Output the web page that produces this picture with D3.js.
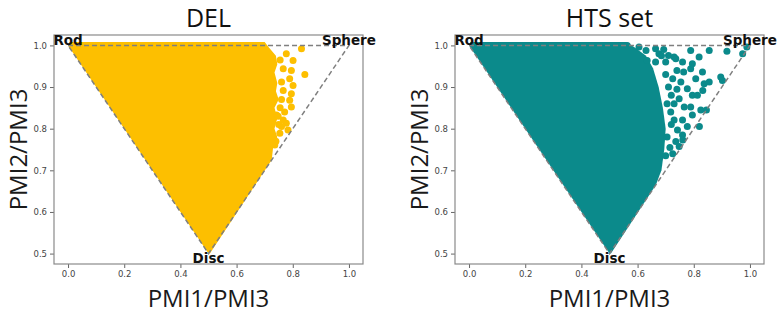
<!DOCTYPE html>
<html>
<head>
<meta charset="utf-8">
<script src="https://cdn.jsdelivr.net/npm/d3@7"></script>
<style>
  html, body { margin: 0; padding: 0; background: #fff; }
  svg { display: block; }
</style>
</head>
<body>
<div id="chart"></div>
<script>
// PMI shape triangle plots: DEL vs HTS set

const xTicks = [0.0, 0.2, 0.4, 0.6, 0.8, 1.0];
const yTicks = [0.5, 0.6, 0.7, 0.8, 0.9, 1.0];

// triangle corners (Rod, Sphere, Disc)
const triangle = [[0, 1], [1, 1], [0.5, 0.5], [0, 1]];
const shapeLabels = [
  {name: 'Rod', x: 0, y: 1, pos: 'above'},
  {name: 'Sphere', x: 1, y: 1, pos: 'above'},
  {name: 'Disc', x: 0.5, y: 0.5, pos: 'below'}
];

// visible outline of the dense point cloud
const delBoundary = [[0, 1], [0.005, 1.008], [0.70, 1.008], [0.715, 0.995], [0.74, 0.975], [0.745, 0.955],
  [0.735, 0.935], [0.745, 0.91], [0.74, 0.89], [0.75, 0.87], [0.735, 0.85], [0.745, 0.825],
  [0.735, 0.80], [0.745, 0.78], [0.73, 0.755], [0.725, 0.725], [0.505, 0.5], [0.5, 0.5]];
// scattered points outside the dense cloud
const delDots = [[0.575, 1.0], [0.831, 0.992], [0.777, 0.980], [0.801, 0.964], [0.843, 0.930], [0.766, 0.944],
  [0.795, 0.940], [0.789, 0.920], [0.760, 0.912], [0.801, 0.904], [0.766, 0.892], [0.795, 0.884],
  [0.789, 0.868], [0.795, 0.852], [0.771, 0.840], [0.766, 0.821], [0.777, 0.813], [0.783, 0.797],
  [0.754, 0.789], [0.742, 0.833], [0.736, 0.761], [0.748, 0.830], [0.74, 0.77], [0.755, 0.965],
  [0.76, 0.87], [0.755, 0.85], [0.76, 0.805], [0.75, 0.81]];

const htsBoundary = [[0, 1], [0.005, 1.008], [0.56, 1.008], [0.59, 0.995], [0.63, 0.975], [0.655, 0.945],
  [0.675, 0.90], [0.69, 0.85], [0.70, 0.80], [0.695, 0.75], [0.685, 0.70], [0.665, 0.665],
  [0.505, 0.5], [0.5, 0.5]];
const htsDots = [[0.563, 1.0], [0.605, 0.996], [0.63, 0.988], [0.664, 0.992], [0.676, 0.98], [0.634, 0.964],
  [0.664, 0.96], [0.693, 0.99], [0.71, 0.976], [0.73, 0.972], [0.736, 0.968], [0.76, 0.960],
  [0.789, 0.988], [0.855, 0.988], [0.918, 0.986], [0.989, 0.996], [0.974, 0.980], [0.819, 0.972],
  [0.789, 0.944], [0.795, 0.956], [0.764, 0.936], [0.831, 0.936], [0.807, 0.920], [0.837, 0.908],
  [0.855, 0.912], [0.896, 0.924], [0.902, 0.916], [0.754, 0.912], [0.777, 0.896], [0.832, 0.892],
  [0.795, 0.880], [0.813, 0.880], [0.748, 0.872], [0.766, 0.852], [0.789, 0.852], [0.825, 0.845],
  [0.845, 0.845], [0.795, 0.833], [0.718, 0.840], [0.760, 0.821], [0.73, 0.821], [0.777, 0.805],
  [0.82, 0.805], [0.742, 0.797], [0.760, 0.785], [0.761, 0.773], [0.736, 0.769], [0.748, 0.757],
  [0.70, 0.93], [0.71, 0.90], [0.72, 0.88], [0.705, 0.86], [0.72, 0.81], [0.705, 0.78],
  [0.715, 0.755], [0.70, 0.735], [0.725, 0.74], [0.70, 0.96], [0.685, 0.975], [0.725, 0.92],
  [0.74, 0.94], [0.74, 0.895], [0.73, 0.86]];

const panels = [
  {title: 'DEL', left: 54, color: '#fdbf00', boundary: delBoundary, dots: delDots},
  {title: 'HTS set', left: 455, color: '#0b8a8b', boundary: htsBoundary, dots: htsDots}
];

const W = 784, H = 313;
const plotTop = 35, pw = 309, ph = 229;
const dotR = 3.5;

const svg = d3.select('#chart').append('svg').attr('width', W).attr('height', H);

panels.forEach(p => {
  const x = d3.scaleLinear().domain([-0.05, 1.05]).range([0, pw]);
  const y = d3.scaleLinear().domain([0.475, 1.025]).range([ph, 0]);
  const g = svg.append('g').attr('transform', `translate(${p.left},${plotTop})`);

  const line = d3.line().x(d => x(d[0])).y(d => y(d[1]));

  // dense cloud
  g.append('path')
    .datum(p.boundary)
    .attr('d', d => line(d) + 'Z')
    .attr('fill', p.color);

  g.selectAll('circle.dot').data(p.dots).join('circle')
    .attr('class', 'dot')
    .attr('cx', d => x(d[0]))
    .attr('cy', d => y(d[1]))
    .attr('r', dotR)
    .attr('fill', p.color);

  // dashed triangle
  g.append('path')
    .datum(triangle)
    .attr('d', line)
    .attr('fill', 'none')
    .attr('stroke', '#7f7f7f')
    .attr('stroke-width', 1.5)
    .attr('stroke-dasharray', '5,3');

  // axes
  const xAxis = d3.axisBottom(x).tickValues(xTicks).tickFormat(d3.format('.1f')).tickSize(4).tickPadding(3);
  const yAxis = d3.axisLeft(y).tickValues(yTicks).tickFormat(d3.format('.1f')).tickSize(4).tickPadding(3);
  [g.append('g').attr('transform', `translate(0,${ph})`).call(xAxis),
   g.append('g').call(yAxis)].forEach(a => {
    a.select('.domain').remove();
    a.selectAll('.tick line').attr('stroke', '#666');
    a.selectAll('.tick text').attr('fill', '#444')
      .style('font-family', 'DejaVu Sans, sans-serif').style('font-size', '8.5px');
  });

  // frame
  g.append('rect')
    .attr('width', pw).attr('height', ph)
    .attr('fill', 'none')
    .attr('stroke', '#8a8a8a')
    .attr('stroke-width', 1.2);

  // shape labels
  shapeLabels.forEach(s => {
    g.append('text')
      .attr('x', x(s.x))
      .attr('y', s.pos === 'above' ? y(s.y) : y(s.y) + 9)
      .attr('text-anchor', 'middle')
      .style('font-family', 'DejaVu Sans, sans-serif')
      .style('font-weight', 'bold')
      .style('font-size', '13.5px')
      .attr('fill', '#111')
      .text(s.name);
  });

  // title and axis labels
  svg.append('text')
    .attr('x', p.left + pw / 2).attr('y', 27)
    .attr('text-anchor', 'middle')
    .style('font-family', 'Open Sans, sans-serif').style('font-size', '25px')
    .attr('fill', '#111')
    .text(p.title);

  svg.append('text')
    .attr('x', p.left + pw / 2).attr('y', 307)
    .attr('text-anchor', 'middle')
    .style('font-family', 'Open Sans, sans-serif').style('font-size', '24px')
    .attr('fill', '#1a1a1a')
    .text('PMI1/PMI3');

  svg.append('text')
    .attr('transform', `translate(${p.left - 27},${plotTop + ph / 2}) rotate(-90)`)
    .attr('text-anchor', 'middle')
    .style('font-family', 'Open Sans, sans-serif').style('font-size', '24px')
    .attr('fill', '#1a1a1a')
    .text('PMI2/PMI3');
});
</script>
</body>
</html>
